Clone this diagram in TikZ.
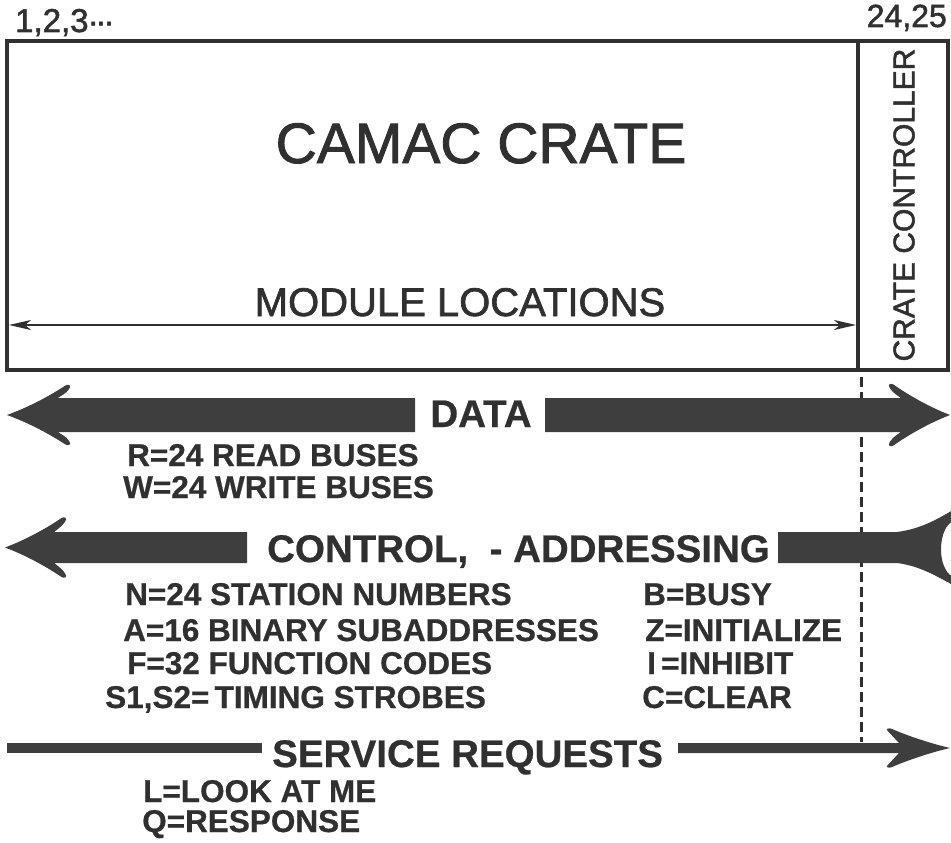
\documentclass[tikz,border=0pt]{standalone}
\usepackage{fontspec}
\setmainfont{Liberation Sans}
\newfontfamily\mediumfont[FakeBold=1.6]{Liberation Sans}
\newfontfamily\heavyfont[FakeBold=0.6]{Liberation Sans Bold}
\usetikzlibrary{arrows.meta}
\definecolor{ink}{HTML}{303030}
\definecolor{bandcol}{HTML}{3E3E3E}
\newcommand{\fatarrow}[6]{%
 \begin{scope}[shift={#1},xscale=#2]
 \pgfmathsetmacro{\faL}{#3}\pgfmathsetmacro{\fah}{#4}\pgfmathsetmacro{\faH}{#5}\pgfmathsetmacro{\faD}{#6}
 \fill[bandcol] (0,0)
  .. controls ({0.4*\faD},{-0.3*\faH}) and ({0.75*\faD},{-0.72*\faH}) .. ({0.94*\faD},{-0.98*\faH})
  .. controls ({0.99*\faD},{-1.05*\faH}) and ({1.05*\faD},{-0.98*\faH}) .. ({\faD},{-0.86*\faH})
  .. controls ({0.95*\faD},{-0.7*\faH}) and ({0.86*\faD},{-\fah-0.15*(\faH-\fah)}) .. ({0.82*\faD},{-\fah})
  -- ({\faL},{-\fah}) -- ({\faL},{\fah}) -- ({0.82*\faD},{\fah})
  .. controls ({0.86*\faD},{\fah+0.15*(\faH-\fah)}) and ({0.95*\faD},{0.7*\faH}) .. ({\faD},{0.86*\faH})
  .. controls ({1.05*\faD},{0.98*\faH}) and ({0.99*\faD},{1.05*\faH}) .. ({0.94*\faD},{0.98*\faH})
  .. controls ({0.75*\faD},{0.72*\faH}) and ({0.4*\faD},{0.3*\faH}) .. (0,0) -- cycle;
 \end{scope}}
\tikzset{
  boxline/.style={draw=ink, line width=3.5pt},
  lbl/.style={inner sep=0pt, text=ink, font=\fontsize{31.5}{36}\heavyfont, anchor=base west},
  big/.style={inner sep=0pt, text=ink, font=\fontsize{38.5}{46}\heavyfont},
  plain/.style={inner sep=0pt, text=ink},
}
\begin{document}
\begin{tikzpicture}[x=1pt,y=-1pt]
\useasboundingbox (0,0) rectangle (951,843);
\clip (0,0) rectangle (951,843);
% crate box
\draw[boxline] (7,41) rectangle (948,370);
\draw[boxline] (858,41) -- (858,370);
\node[plain, anchor=base west, font=\fontsize{33}{38}\mediumfont] (slots) at (15,32) {1,2,3\raisebox{0.2em}{.\kern-0.04em.\kern-0.04em.}};
\node[plain, anchor=base east, font=\fontsize{32}{38}\mediumfont] (ccslots) at (947,27) {24,25};
\node[plain, anchor=base, font=\fontsize{57}{66}\mediumfont] (crate) at (481,163) {CAMAC CRATE};
\node[plain, anchor=base, font=\fontsize{40}{46}\mediumfont] (modloc) at (460,316) {MODULE LOCATIONS};
\node[plain, rotate=90, font=\fontsize{30}{36}\mediumfont] (cc) at (904,205) {CRATE CONTROLLER};
\coordinate (ml) at (9,325);
\coordinate (mr) at (856,325);
\draw[draw=ink, line width=2pt, {Stealth[length=22pt,width=10pt,inset=6pt]}-{Stealth[length=22pt,width=10pt,inset=6pt]}] (ml) -- (mr);
% dashed line
\coordinate (dtop) at (861,377);
\coordinate (dbot) at (861,742);
\draw[draw=ink, line width=3pt, dash pattern=on 10pt off 5pt] (dtop) -- (dbot);
% DATA
\fatarrow{(7,415)}{1}{408}{17}{30}{62}
\fatarrow{(950,415)}{-1}{405}{17}{31}{60}
\node[big, anchor=base] (data) at (481,427) {DATA};
\node[lbl] (r) at (127,466) {R=24 READ BUSES};
\node[lbl] (w) at (123,498) {W=24 WRITE BUSES};
% CONTROL
\fatarrow{(5,547.5)}{1}{242}{15.5}{30}{60}
\fill[bandcol] (778,532) -- (897,532) .. controls (920,529) and (936,520) .. (953,510)
  -- (953,521) .. controls (938,528) and (936,568) .. (953,577)
  -- (953,585) .. controls (936,576) and (920,566) .. (897,563) -- (778,563) -- cycle;
\node[big, anchor=base west] (ctrl) at (267,562) {CONTROL,\ \ -\ ADDRESSING};
\node[lbl] (n) at (125,605) {N=24 STATION NUMBERS};
\node[lbl] (a) at (123,641) {A=16 BINARY SUBADDRESSES};
\node[lbl] (f) at (127,674) {F=32 FUNCTION CODES};
\node[lbl] (s) at (105,708) {S1,S2=\,TIMING STROBES};
\node[lbl] (b) at (643,605) {B=BUSY};
\node[lbl] (z) at (645,641) {Z=INITIALIZE};
\node[lbl] (i) at (647,674) {I\,=INHIBIT};
\node[lbl] (c) at (642,708) {C=CLEAR};
% SERVICE REQUESTS
\fill[bandcol] (7,743) rectangle (262,753);
\fatarrow{(950,748)}{-1}{272}{5}{19.5}{62}
\node[big, anchor=base west] (srv) at (272,767) {SERVICE REQUESTS};
\node[lbl] (l) at (143,802) {L=LOOK AT ME};
\node[lbl] (q) at (142,832) {Q=RESPONSE};
\end{tikzpicture}
\end{document}
